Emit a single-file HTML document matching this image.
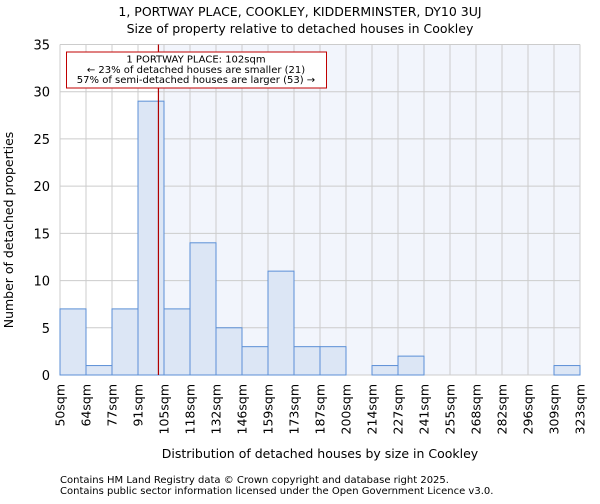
<!DOCTYPE html><html><head><meta charset="utf-8"><style>
body{margin:0;background:#fff;font-family:"DejaVu Sans","Liberation Sans",sans-serif}
</style></head><body>
<svg id="c" width="600" height="500" xmlns="http://www.w3.org/2000/svg" font-family="DejaVu Sans, Liberation Sans, sans-serif"></svg>
<script>
const edges=[50,64,77,91,105,118,132,146,159,173,187,200,214,227,241,255,268,282,296,309,323];
const counts=[7,1,7,29,7,14,5,3,11,3,3,0,1,2,0,0,0,0,0,1];
const yTicks=[0,5,10,15,20,25,30,35];
const subject=102;
const L=60,R=580,T=44.5,B=375,yMax=35;
const svg=document.getElementById('c');const NS='http://www.w3.org/2000/svg';
function xi(i){return L+(R-L)*i/(edges.length-1);}
function xv(v){for(let i=0;i<edges.length-1;i++){if(v<=edges[i+1])return xi(i)+(v-edges[i])/(edges[i+1]-edges[i])*(xi(i+1)-xi(i));}return R;}
function y(v){return B-(B-T)*v/yMax;}
function el(t,a,name,txt){const e=document.createElementNS(NS,t);for(const k in a)e.setAttribute(k,a[k]);


if(txt!==undefined)e.textContent=txt;svg.appendChild(e);return e;}
el('rect',{x:L,y:T,width:R-L,height:B-T,fill:'#fff'},'plot-area');
const sx=xv(subject);
el('rect',{x:sx,y:T,width:R-sx,height:B-T,fill:'#f2f5fc'},'larger-region-shade');
edges.forEach((e,i)=>el('line',{x1:xi(i),x2:xi(i),y1:T,y2:B,stroke:'#ccc','stroke-width':1},'x-gridline'));
yTicks.forEach(v=>el('line',{x1:L,x2:R,y1:y(v),y2:y(v),stroke:'#ccc','stroke-width':1},'y-gridline'));
counts.forEach((c,i)=>{if(c>0)el('rect',{x:xi(i),y:y(c),width:xi(i+1)-xi(i),height:B-y(c),fill:'#dce6f5',stroke:'#5b8fd6','stroke-width':1},'bar-'+edges[i]);});
el('line',{x1:sx,x2:sx,y1:T,y2:B,stroke:'#b00000','stroke-width':1.2},'subject-marker-line');
el('rect',{x:66.5,y:52,width:260,height:36,fill:'#fff',stroke:'#c00000','stroke-width':1},'annotation-box');
['1 PORTWAY PLACE: 102sqm','← 23% of detached houses are smaller (21)','57% of semi-detached houses are larger (53) →'].forEach((t,i)=>el('text',{x:196,y:62.5+i*10.3,'font-size':10,'text-anchor':'middle',fill:'#000'},'annotation-line',t));
yTicks.forEach(v=>el('text',{x:L-10,y:y(v)+5,'font-size':13,'text-anchor':'end'},'y-tick-label',String(v)));
edges.forEach((e,i)=>{const xx=xi(i)+4.5;el('text',{x:xx,y:384,'font-size':12.5,'text-anchor':'end',transform:'rotate(-90 '+xx+' 384)'},'x-tick-label',e+'sqm');});
el('text',{x:300,y:16,'font-size':12.5,'text-anchor':'middle'},'chart-title','1, PORTWAY PLACE, COOKLEY, KIDDERMINSTER, DY10 3UJ');
el('text',{x:300,y:33,'font-size':12.5,'text-anchor':'middle'},'chart-subtitle','Size of property relative to detached houses in Cookley');
el('text',{x:320,y:458,'font-size':12.5,'text-anchor':'middle'},'x-axis-title','Distribution of detached houses by size in Cookley');
el('text',{x:13,y:230,'font-size':12.5,'text-anchor':'middle',transform:'rotate(-90 13 230)'},'y-axis-title','Number of detached properties');
el('text',{x:60,y:483,'font-size':10},'footer-line-1','Contains HM Land Registry data © Crown copyright and database right 2025.');
el('text',{x:60,y:494,'font-size':10},'footer-line-2','Contains public sector information licensed under the Open Government Licence v3.0.');
</script></body></html>
